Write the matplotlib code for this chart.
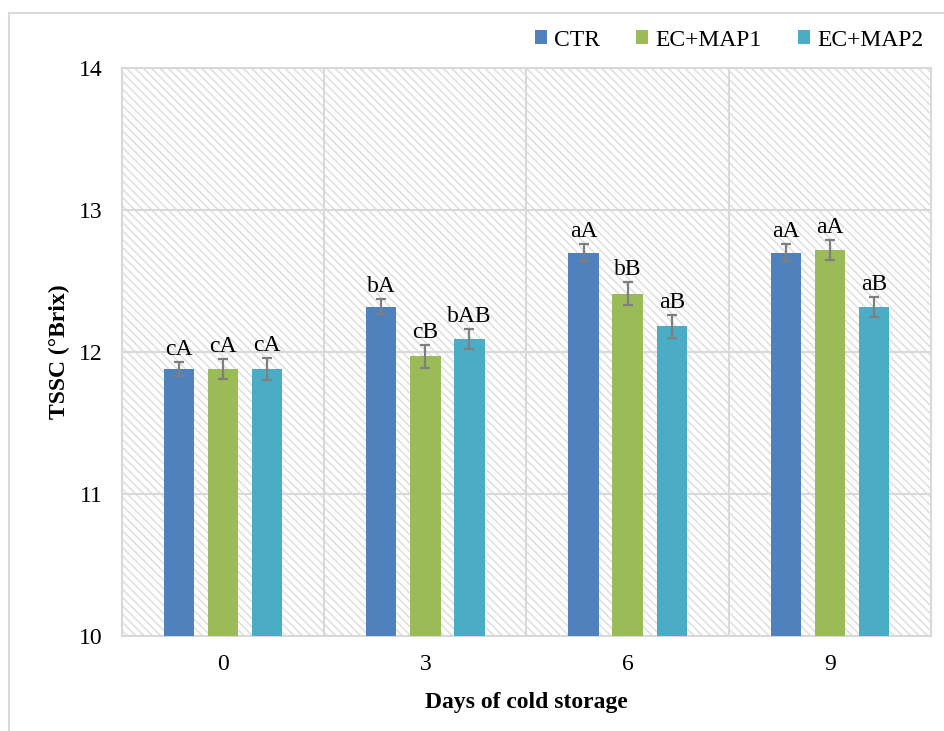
import matplotlib
matplotlib.use("Agg")
import matplotlib.pyplot as plt
from matplotlib.patches import Rectangle, Patch
import numpy as np

days = ["0", "3", "6", "9"]
series = ["CTR", "EC+MAP1", "EC+MAP2"]
ctr = [11.88, 12.32, 12.70, 12.70]
map1 = [11.88, 11.97, 12.41, 12.72]
map2 = [11.88, 12.09, 12.18, 12.32]
ctr_err = [0.05, 0.05, 0.06, 0.06]
map1_err = [0.07, 0.08, 0.08, 0.07]
map2_err = [0.08, 0.07, 0.08, 0.07]
ctr_lbl = ["cA", "bA", "aA", "aA"]
map1_lbl = ["cA", "cB", "bB", "aA"]
map2_lbl = ["cA", "bAB", "aB", "aB"]
yticks = [10, 11, 12, 13, 14]

colors = ["#4F81BD", "#9BBB59", "#4BACC6"]
grid_c = "#d9d9d9"

plt.rcParams['font.family'] = ['Liberation Serif', 'DejaVu Serif']
plt.rcParams['hatch.linewidth'] = 1.2

fig = plt.figure(figsize=(9.45, 7.31), dpi=100)
ax = fig.add_axes([122/945, 1-636/731, (931-122)/945, (636-68)/731])

# figure frame
fig.patches.append(Rectangle((9/945, -0.2), 1.5, 1.2 - 13/731, transform=fig.transFigure,
                             fill=False, edgecolor=grid_c, linewidth=1.5, zorder=0))

# hatched background
ax.add_patch(Rectangle((0, 0), 1, 1, transform=ax.transAxes, facecolor="white",
                       edgecolor="#e0e0e0", hatch="\\\\\\\\", linewidth=0, zorder=0))

x = np.arange(len(days))
w = 0.15
step = 0.218
vals = [ctr, map1, map2]
errs = [ctr_err, map1_err, map2_err]
lbls = [ctr_lbl, map1_lbl, map2_lbl]
for i in range(3):
    pos = x + (i - 1) * step
    ax.bar(pos, np.array(vals[i]) - 10, bottom=10, width=w, color=colors[i], zorder=3)
    ax.errorbar(pos, vals[i], yerr=errs[i], fmt="none", ecolor="#7f7f7f",
                elinewidth=1.6, capsize=3.5, capthick=1.6, zorder=4)
    for p, v, e, t in zip(pos, vals[i], errs[i], lbls[i]):
        ax.annotate(t, (p, v + e), xytext=(0, 1.5), textcoords="offset points",
                    ha="center", va="bottom", fontsize=17, zorder=5)

ax.set_xlim(-0.5, 3.5)
ax.set_ylim(10, 14)
ax.set_yticks(yticks)
ax.set_xticks(x)
ax.set_xticklabels(days)
ax.set_xticks([0.5, 1.5, 2.5], minor=True)
ax.tick_params(axis="both", which="both", length=0, labelsize=17)
ax.tick_params(axis="y", pad=14)
ax.tick_params(axis="x", pad=13)
ax.grid(axis="y", which="major", color=grid_c, linewidth=1.5, zorder=1)
ax.grid(axis="x", which="minor", color=grid_c, linewidth=1.5, zorder=1)
ax.grid(axis="x", which="major", visible=False)
for s in ax.spines.values():
    s.set_color(grid_c)
    s.set_linewidth(1.5)

ax.set_ylabel("TSSC (°Brix)", fontsize=17, fontweight="bold", labelpad=6)
ax.set_xlabel("Days of cold storage", fontsize=17, fontweight="bold", labelpad=12)

handles = [Patch(facecolor=c, edgecolor="none") for c in colors]
fig.legend(handles, series, loc="center", bbox_to_anchor=(729/945, 1-40/731), ncol=3,
           frameon=False, fontsize=17, handlelength=0.5, handleheight=0.5,
           handletextpad=0.3, columnspacing=1.55)

fig.savefig("out.png", dpi=100)
